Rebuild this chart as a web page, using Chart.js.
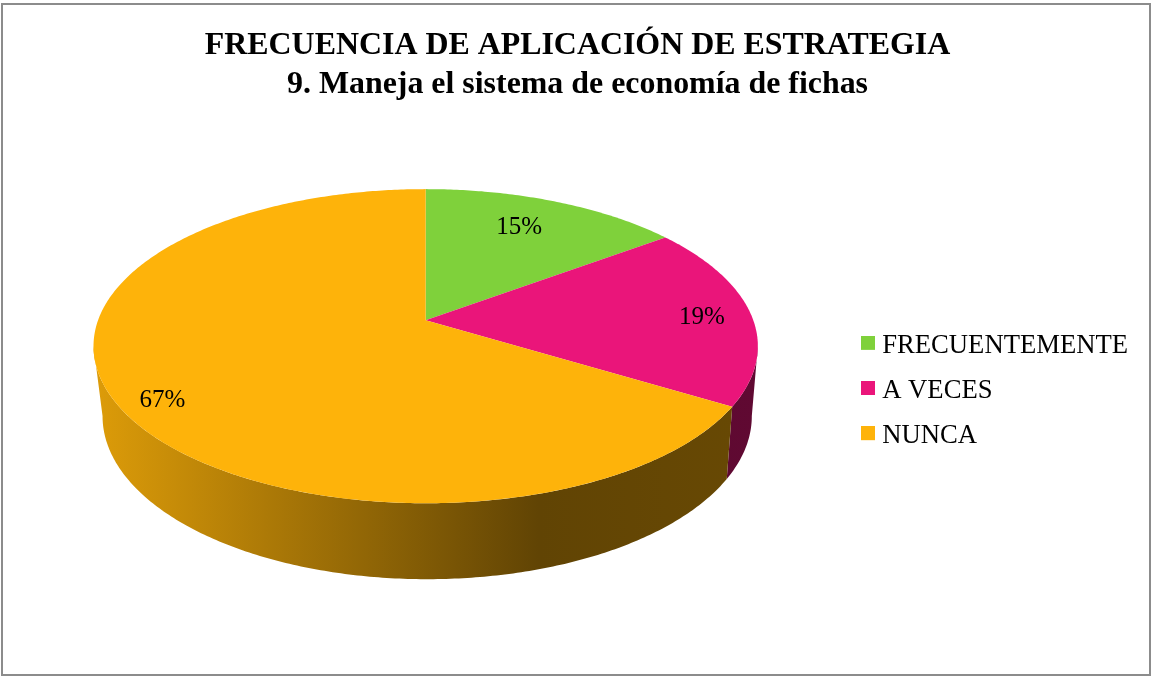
<!DOCTYPE html>
<html>
<head>
<meta charset="utf-8">
<title>Frecuencia de aplicación de estrategia</title>
<script src="https://cdn.jsdelivr.net/npm/chart.js@4"></script>
<style>
  html, body { margin: 0; padding: 0; background: #fff; }
  canvas { display: block; }
</style>
</head>
<body>
<canvas id="pieChart" width="1152" height="677"></canvas>
<script>
const categories = ["FRECUENTEMENTE", "A VECES", "NUNCA"];
const percentages = [15, 19, 67];
const sliceColors = ["#7FD13B", "#EA157A", "#FEB30A"];
const titleLines = ["FRECUENCIA DE APLICACIÓN DE ESTRATEGIA", "9. Maneja el sistema de economía de fichas"];

const serif = "'Liberation Serif', 'Times New Roman', serif";

// Fake 3D: the circle is projected on two planes (lid and foot of the pie)
const tilt = -0.1656;
const lid = { dx: 0, dy: 0, sx: 1.497, sy: 0.698 };
const foot = { dx: 1.5, dy: 69, sx: 1.463, sy: 0.7246 };
const wallFrom = 99.5 * Math.PI / 180;
const wallTo = 260.5 * Math.PI / 180;
const labelReach = 0.8;
const labelNudge = [[-12, 4.5], [16, 3], [-19, 16]];

function project(arc, plane, angle, reach) {
  // chart.js angles start at -PI/2, here 0 is the top of the pie
  const u = Math.sin(angle) * reach;
  const v = -Math.cos(angle) * reach;
  const d = 1 + tilt * v;
  return {
    x: arc.x + plane.dx + arc.outerRadius * plane.sx * u / d,
    y: arc.y + plane.dy + arc.outerRadius * plane.sy * v / d
  };
}

function tracePlane(ctx, arc, plane, from, to) {
  const steps = Math.max(2, Math.ceil(Math.abs(to - from) * 90));
  for (let i = 0; i <= steps; i++) {
    const p = project(arc, plane, from + (to - from) * i / steps, 1);
    ctx.lineTo(p.x, p.y);
  }
}

function shade(hex, k) {
  const n = parseInt(hex.slice(1), 16);
  return `rgb(${(n >> 16) * k}, ${((n >> 8) & 255) * k}, ${(n & 255) * k})`;
}

const pie3d = {
  id: "pie3d",
  afterLayout(chart) {
    // legend sits lower and the pie further left than chart.js would put them
    const legend = chart.legend;
    legend.top += 114.5;
    legend.bottom += 114.5;
    legend.left -= 3;
    legend.right -= 3;
    chart.chartArea.right -= 14;
  },
  beforeDatasetDraw(chart) {
    const ctx = chart.ctx;
    const arcs = chart.getDatasetMeta(0).data;
    ctx.save();

    // side wall
    arcs.forEach((arc, i) => {
      const start = Math.max(arc.startAngle + Math.PI / 2, wallFrom);
      const end = Math.min(arc.endAngle + Math.PI / 2, wallTo);
      if (end <= start) return;
      const grad = ctx.createLinearGradient(arc.x - 332, 0, arc.x + 332, 0);
      grad.addColorStop(0, shade(sliceColors[i], 0.87));
      grad.addColorStop(0.67, shade(sliceColors[i], 0.38));
      grad.addColorStop(1, shade(sliceColors[i], 0.41));
      ctx.beginPath();
      tracePlane(ctx, arc, lid, start, end);
      tracePlane(ctx, arc, foot, end, start);
      ctx.closePath();
      ctx.fillStyle = grad;
      ctx.fill();
    });

    // top faces
    arcs.forEach((arc, i) => {
      ctx.beginPath();
      ctx.moveTo(arc.x, arc.y);
      tracePlane(ctx, arc, lid, arc.startAngle + Math.PI / 2, arc.endAngle + Math.PI / 2);
      ctx.closePath();
      ctx.fillStyle = sliceColors[i];
      ctx.fill();
    });

    ctx.restore();
    return false;
  },
  afterDatasetsDraw(chart) {
    const ctx = chart.ctx;
    ctx.save();
    ctx.font = "25px " + serif;
    ctx.fillStyle = "#000";
    ctx.textAlign = "center";
    ctx.textBaseline = "middle";
    chart.getDatasetMeta(0).data.forEach((arc, i) => {
      const mid = (arc.startAngle + arc.endAngle) / 2 + Math.PI / 2;
      const p = project(arc, lid, mid, labelReach);
      ctx.fillText(percentages[i] + "%", p.x + labelNudge[i][0], p.y + labelNudge[i][1]);
    });
    ctx.restore();
  },
  afterDraw(chart) {
    // grey frame of the picture
    const ctx = chart.ctx;
    ctx.save();
    ctx.strokeStyle = "#8c8c8c";
    ctx.lineWidth = 2;
    ctx.strokeRect(2, 4, 1148, 671);
    ctx.restore();
  }
};

function swatch(color) {
  // taller than the square so it sits a bit above the text middle
  const c = document.createElement("canvas");
  c.width = 14;
  c.height = 20;
  const g = c.getContext("2d");
  g.fillStyle = color;
  g.fillRect(0, 0, 14, 14);
  return c;
}

new Chart(document.getElementById("pieChart"), {
  type: "pie",
  plugins: [pie3d],
  data: {
    labels: categories,
    datasets: [{ data: percentages, backgroundColor: sliceColors, borderWidth: 0 }]
  },
  options: {
    responsive: false,
    animation: false,
    layout: { padding: { left: 14, right: 11, top: 14, bottom: 138 } },
    plugins: {
      tooltip: { enabled: false },
      title: {
        display: true,
        text: titleLines,
        color: "#000",
        font: { family: serif, size: 31.9, weight: "bold", lineHeight: 1.22 },
        padding: { top: 12.5, bottom: -3 }
      },
      legend: {
        position: "right",
        labels: {
          color: "#000",
          font: { family: serif, size: 26.67 },
          padding: 18.5,
          usePointStyle: true,
          pointStyleWidth: 2,
          generateLabels: () => categories.map((text, i) => ({
            text,
            fillStyle: sliceColors[i],
            strokeStyle: sliceColors[i],
            lineWidth: 0,
            pointStyle: swatch(sliceColors[i]),
            hidden: false,
            index: i
          }))
        }
      }
    }
  }
});
</script>
</body>
</html>
